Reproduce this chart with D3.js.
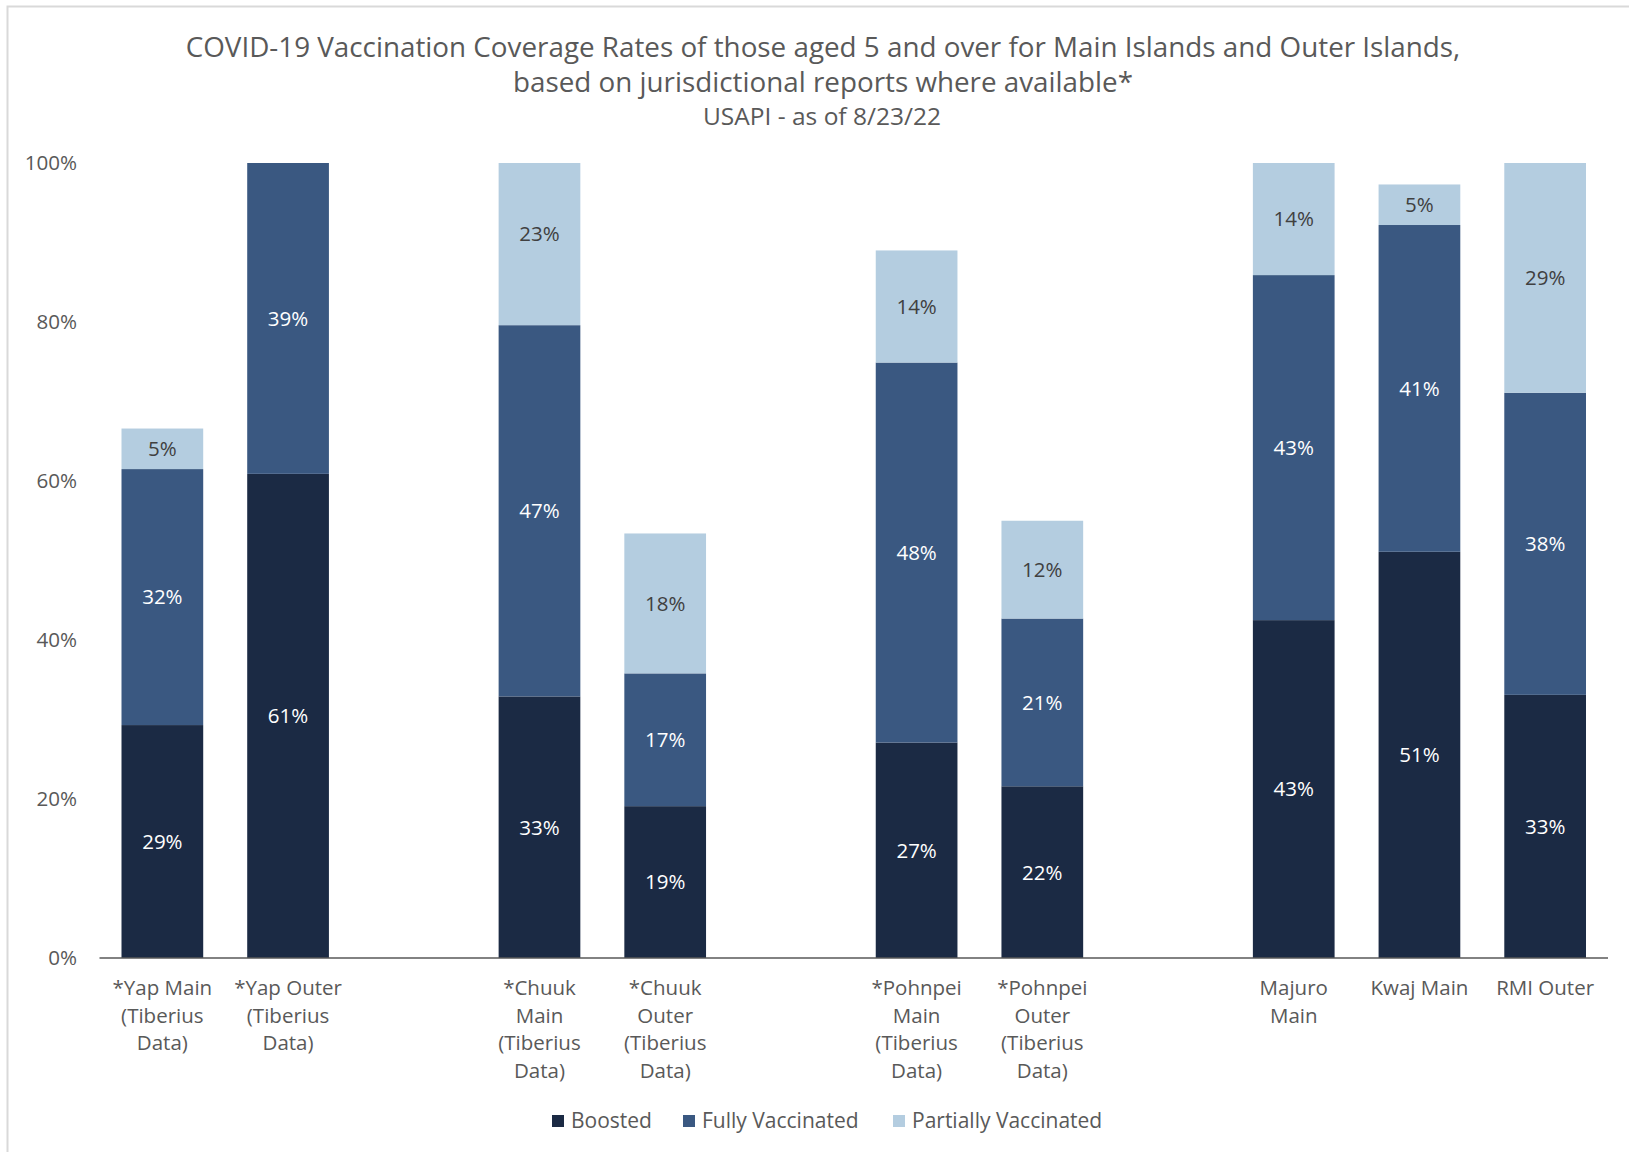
<!DOCTYPE html>
<html><head><meta charset="utf-8">
<script src="https://cdn.jsdelivr.net/npm/d3@7"></script>
<style>html,body{margin:0;padding:0;background:#fff;overflow:hidden}</style>
</head><body>
<svg id="c" width="1629" height="1152"></svg>
<script>
const categories = ["*Yap Main|(Tiberius|Data)", "*Yap Outer|(Tiberius|Data)", "gap1",
  "*Chuuk|Main|(Tiberius|Data)", "*Chuuk|Outer|(Tiberius|Data)", "gap2",
  "*Pohnpei|Main|(Tiberius|Data)", "*Pohnpei|Outer|(Tiberius|Data)", "gap3",
  "Majuro|Main", "Kwaj Main", "RMI Outer"];
const boosted   = [29.3, 60.9, null, 32.9, 19.1, null, 27.1, 21.6, null, 42.5, 51.1, 33.1];
const fully     = [32.2, 39.1, null, 46.7, 16.7, null, 47.8, 21.1, null, 43.4, 41.1, 38.0];
const partially = [5.1, 0, null, 23.0, 17.6, null, 14.1, 12.3, null, 14.2, 5.1, 29.0];
const seriesNames = ["Boosted", "Fully Vaccinated", "Partially Vaccinated"];
const yTicks = [0, 20, 40, 60, 80, 100];
const titleLines = ["COVID-19 Vaccination Coverage Rates of those aged 5 and over for Main Islands and Outer Islands,",
  "based on jurisdictional reports where available*"];
const subtitle = "USAPI - as of 8/23/22";

const colors = ["#1b2a44", "#3a5881", "#b4cde0"];
const labelColors = ["#ffffff", "#ffffff", "#404040"];
const font = "'Open Sans', sans-serif";
const labelFont = "'Open Sans', sans-serif";

const svg = d3.select("#c");
svg.append("path").attr("d", "M7.5,1152 L7.5,6.5 L1629,6.5").attr("fill","none").attr("stroke","#d9d9d9").attr("stroke-width",2);

const x = d3.scaleBand().domain(categories).range([99.5, 1608]).paddingInner(0.35).paddingOuter(0.175);
const y = d3.scaleLinear().domain([0, 100]).range([958, 163]);

svg.append("g").selectAll("text").data(titleLines).join("text")
  .attr("x", 823).attr("y", (d,i)=> 47 + i*35).attr("dy","0.35em")
  .attr("text-anchor","middle").attr("font-family",font).attr("font-size",27.8).attr("fill","#595959")
  .text(d=>d);
svg.append("text").attr("x",822).attr("y",116).attr("dy","0.35em").attr("text-anchor","middle")
  .attr("font-family",font).attr("font-size",24.5).attr("fill","#595959").text(subtitle);

svg.append("g").selectAll("text").data(yTicks).join("text")
  .attr("x", 77).attr("y", d=>y(d)).attr("dy","0.35em").attr("text-anchor","end")
  .attr("font-family",font).attr("font-size",20.6).attr("fill","#595959").text(d=>d+"%");

const rows = categories.map((c,i)=>({cat:c, b:boosted[i], f:fully[i], p:partially[i]})).filter(r=>r.b!==null);
const stack = d3.stack().keys(["b","f","p"])(rows);

svg.append("clipPath").attr("id","clip").append("rect").attr("x",0).attr("y",y(100)).attr("width",1629).attr("height",y(0)-y(100));

const g = svg.append("g").attr("clip-path","url(#clip)");
stack.forEach((layer, si)=>{
  g.append("g").selectAll("rect").data(layer).join("rect")
    .attr("x", d=>x(d.data.cat)).attr("width", x.bandwidth())
    .attr("y", d=>y(d[1])).attr("height", d=>Math.max(0, y(d[0])-y(d[1])))
    .attr("fill", colors[si]);
});
stack.forEach((layer, si)=>{
  svg.append("g").selectAll("text").data(layer.filter(d=>d[1]-d[0]>0.5)).join("text")
    .attr("x", d=>x(d.data.cat)+x.bandwidth()/2)
    .attr("y", d=>y((d[0]+d[1])/2)).attr("dy","0.36em").attr("text-anchor","middle")
    .attr("font-family",labelFont).attr("font-size",20.5).attr("fill",labelColors[si])
    .text(d=>Math.round(d[1]-d[0])+"%");
});

svg.append("line").attr("x1",99.5).attr("x2",1608).attr("y1",y(0)).attr("y2",y(0))
  .attr("stroke","#595959").attr("stroke-width",1.5);

const cg = svg.append("g");
categories.filter(c=>!c.startsWith("gap")).forEach(c=>{
  const t = cg.append("text").attr("text-anchor","middle").attr("font-family",font)
    .attr("font-size",20.5).attr("fill","#595959");
  c.split("|").forEach((line,i)=>{
    t.append("tspan").attr("x", x(c)+x.bandwidth()/2).attr("y", 988 + i*27.5).attr("dy","0.35em").text(line);
  });
});

const legendX = [552, 683, 893];
const lg = svg.append("g");
seriesNames.forEach((s,i)=>{
  lg.append("rect").attr("x",legendX[i]).attr("y",1115).attr("width",12).attr("height",12).attr("fill",colors[i]);
  lg.append("text").attr("x",legendX[i]+19).attr("y",1121).attr("dy","0.35em")
    .attr("font-family",font).attr("font-size",21).attr("fill","#595959").text(s);
});
</script>
</body></html>
